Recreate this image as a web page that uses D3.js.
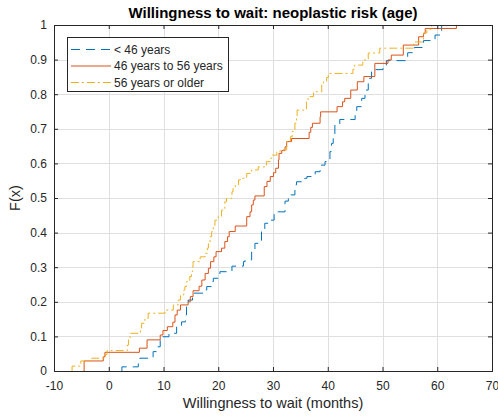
<!DOCTYPE html>
<html lang="en">
<head>
<meta charset="utf-8">
<title>Willingness to wait</title>
<script src="https://cdn.jsdelivr.net/npm/d3@7"></script>
<style>
  body { margin: 0; background: #fff; }
  text { font-family: "Liberation Sans", Arial, Helvetica, sans-serif; fill: #262626; }
</style>
</head>
<body>
<script>
// axis ticks
var xTicks = [-10, 0, 10, 20, 30, 40, 50, 60, 70];
var yTicks = [0, 0.1, 0.2, 0.3, 0.4, 0.5, 0.6, 0.7, 0.8, 0.9, 1];

// legend labels
var groupNames = ["< 46 years", "46 years to 56 years", "56 years or older"];

// < 46 years: step positions (months) and F after each step
var under46X = [2.4, 5.4, 5.7, 8.1, 8.8, 9.4, 11.0, 12.4, 13.3, 14.0, 14.2, 14.5, 15.3, 17.6, 17.9, 18.8, 19.1, 20.3, 22.5, 24.6, 24.9, 26.1, 26.7, 27.9, 28.5, 29.2, 30.2, 32.2, 32.8, 34.0, 34.3, 35.8, 36.2, 37.7, 38.6, 39.5, 40.4, 40.7, 41.0, 41.3, 42.2, 45.0, 45.3, 46.2, 46.8, 47.4, 48.0, 50.1, 50.7, 54.6, 55.8, 57.5, 59.6, 60.8];
var under46F = [0.012, 0.027, 0.037, 0.056, 0.070, 0.099, 0.109, 0.128, 0.142, 0.162, 0.191, 0.205, 0.225, 0.234, 0.244, 0.258, 0.268, 0.287, 0.303, 0.316, 0.321, 0.345, 0.369, 0.403, 0.427, 0.436, 0.460, 0.491, 0.509, 0.538, 0.547, 0.557, 0.562, 0.576, 0.595, 0.605, 0.634, 0.658, 0.682, 0.711, 0.727, 0.749, 0.764, 0.788, 0.812, 0.846, 0.871, 0.884, 0.897, 0.920, 0.935, 0.955, 0.971, 1];

// 46 years to 56 years
var mid46X = [-4.5, -1.0, -0.7, 5.6, 7.0, 9.4, 9.9, 10.7, 11.7, 12.1, 12.5, 13.1, 14.5, 14.9, 15.4, 16.5, 17.0, 17.6, 18.2, 18.6, 19.2, 19.6, 20.6, 21.2, 21.7, 22.0, 23.1, 25.2, 25.8, 26.1, 26.4, 26.7, 28.4, 28.9, 29.5, 30.1, 30.5, 31.0, 31.1, 31.6, 32.2, 32.5, 33.4, 36.6, 36.9, 37.2, 38.6, 38.7, 41.7, 42.7, 43.1, 44.2, 45.4, 46.6, 48.6, 51.0, 51.6, 53.8, 56.6, 57.5, 57.8, 63.5];
var mid46F = [0.029, 0.041, 0.054, 0.066, 0.090, 0.104, 0.117, 0.128, 0.141, 0.162, 0.176, 0.191, 0.200, 0.215, 0.232, 0.245, 0.263, 0.282, 0.297, 0.316, 0.330, 0.345, 0.355, 0.374, 0.388, 0.403, 0.419, 0.446, 0.460, 0.480, 0.494, 0.506, 0.533, 0.548, 0.562, 0.573, 0.586, 0.610, 0.629, 0.637, 0.648, 0.663, 0.672, 0.690, 0.704, 0.716, 0.735, 0.749, 0.764, 0.778, 0.788, 0.812, 0.836, 0.851, 0.889, 0.899, 0.913, 0.942, 0.966, 0.976, 0.990, 1];

// 56 years or older
var over56X = [-6.7, -5.1, -3.1, -0.6, -0.3, 3.4, 3.6, 3.9, 5.8, 6.0, 6.6, 7.2, 10.3, 11.8, 12.7, 13.1, 13.7, 13.9, 14.2, 14.8, 15.1, 15.3, 15.4, 16.7, 17.6, 18.0, 18.2, 18.5, 18.8, 19.1, 19.4, 20.0, 20.6, 21.2, 21.5, 22.5, 22.7, 23.1, 23.7, 24.0, 25.2, 26.1, 27.3, 28.8, 29.5, 29.8, 30.7, 31.3, 32.5, 33.2, 33.5, 34.0, 34.3, 34.4, 36.1, 36.4, 37.4, 38.9, 39.2, 39.8, 40.1, 44.6, 44.9, 46.4, 47.4, 49.5, 55.7, 57.5, 58.1, 59.0];
var over56F = [0.014, 0.029, 0.037, 0.048, 0.059, 0.075, 0.090, 0.109, 0.124, 0.138, 0.152, 0.167, 0.176, 0.191, 0.205, 0.220, 0.234, 0.244, 0.258, 0.273, 0.287, 0.301, 0.316, 0.330, 0.340, 0.355, 0.369, 0.388, 0.403, 0.420, 0.436, 0.446, 0.465, 0.489, 0.499, 0.518, 0.528, 0.538, 0.552, 0.557, 0.571, 0.581, 0.590, 0.605, 0.615, 0.624, 0.634, 0.639, 0.663, 0.677, 0.692, 0.716, 0.735, 0.754, 0.778, 0.793, 0.807, 0.827, 0.836, 0.848, 0.860, 0.872, 0.884, 0.899, 0.919, 0.933, 0.951, 0.977, 0.988, 1];

var W = 498, H = 417;
var plotLeft = 54, plotRight = 492, plotTop = 25, plotBottom = 371;

var svg = d3.select("body").append("svg")
  .attr("width", W)
  .attr("height", H);

var x = d3.scaleLinear().domain([-10, 70]).range([plotLeft, plotRight]);
var y = d3.scaleLinear().domain([0, 1]).range([plotBottom, plotTop]);

// grid
var grid = svg.append("g").attr("stroke", "#dfdfdf").attr("stroke-width", 1);
xTicks.forEach(function(t) {
  grid.append("line")
    .attr("x1", Math.round(x(t)) + 0.5).attr("x2", Math.round(x(t)) + 0.5)
    .attr("y1", plotTop).attr("y2", plotBottom);
});
yTicks.forEach(function(t) {
  grid.append("line")
    .attr("x1", plotLeft).attr("x2", plotRight)
    .attr("y1", Math.round(y(t)) + 0.5).attr("y2", Math.round(y(t)) + 0.5);
});

// ecdf stairs
var series = [
  {xs: under46X, fs: under46F, color: "#0072BD", dash: "9,6"},
  {xs: mid46X, fs: mid46F, color: "#D95319", dash: null},
  {xs: over56X, fs: over56F, color: "#EDB120", dash: "8,3,2,3"}
];

var stairs = d3.line()
  .x(function(d) { return x(d[0]); })
  .y(function(d) { return y(d[1]); })
  .curve(d3.curveStepAfter);

series.forEach(function(s) {
  var pts = [[s.xs[0], 0]];
  for (var i = 0; i < s.xs.length; i++) pts.push([s.xs[i], s.fs[i]]);
  svg.append("path")
    .attr("d", stairs(pts))
    .attr("fill", "none")
    .attr("stroke", s.color)
    .attr("stroke-width", 1)
    .attr("stroke-dasharray", s.dash);
});

// axes (ticks inside, mirrored on top/right)
var fmt = function(d) { return String(d); };
var xAxis = svg.append("g").attr("transform", "translate(0," + plotBottom + ")")
  .call(d3.axisBottom(x).tickValues(xTicks).tickSize(-4).tickPadding(10).tickFormat(fmt));
var yAxis = svg.append("g").attr("transform", "translate(" + plotLeft + ",0)")
  .call(d3.axisLeft(y).tickValues(yTicks).tickSize(-4).tickPadding(7).tickFormat(fmt));
var xTop = svg.append("g").attr("transform", "translate(0," + plotTop + ")")
  .call(d3.axisTop(x).tickValues(xTicks).tickSize(-4).tickFormat(""));
var yRight = svg.append("g").attr("transform", "translate(" + plotRight + ",0)")
  .call(d3.axisRight(y).tickValues(yTicks).tickSize(-4).tickFormat(""));

[xAxis, yAxis, xTop, yRight].forEach(function(g) {
  g.selectAll(".domain").attr("stroke", "#262626");
  g.selectAll(".tick line").attr("stroke", "#262626");
  g.selectAll("text").attr("font-size", 12).attr("fill", "#262626")
    .attr("font-family", "'Liberation Sans', Arial, sans-serif");
});

// title and labels
svg.append("text")
  .attr("x", (plotLeft + plotRight) / 2).attr("y", 18)
  .attr("text-anchor", "middle")
  .attr("font-size", 15).attr("font-weight", "bold")
  .style("fill", "#000")
  .text("Willingness to wait: neoplastic risk (age)");

svg.append("text")
  .attr("x", (plotLeft + plotRight) / 2).attr("y", 408)
  .attr("text-anchor", "middle")
  .attr("font-size", 14.5)
  .text("Willingness to wait (months)");

svg.append("text")
  .attr("transform", "translate(20," + ((plotTop + plotBottom) / 2) + ") rotate(-90)")
  .attr("text-anchor", "middle")
  .attr("font-size", 14.5)
  .text("F(x)");

// legend
var lg = svg.append("g");
lg.append("rect")
  .attr("x", 67.5).attr("y", 37.5).attr("width", 161).attr("height", 54)
  .attr("fill", "#fff").attr("stroke", "#262626").attr("stroke-width", 1);
series.forEach(function(s, i) {
  var ly = 49.5 + i * 16.5;
  lg.append("line")
    .attr("x1", 71).attr("x2", 111).attr("y1", ly).attr("y2", ly)
    .attr("stroke", s.color).attr("stroke-width", 1)
    .attr("stroke-dasharray", s.dash);
  lg.append("text")
    .attr("x", 114).attr("y", ly).attr("dy", "0.35em")
    .attr("font-size", 12)
    .text(groupNames[i]);
});
</script>
</body>
</html>
